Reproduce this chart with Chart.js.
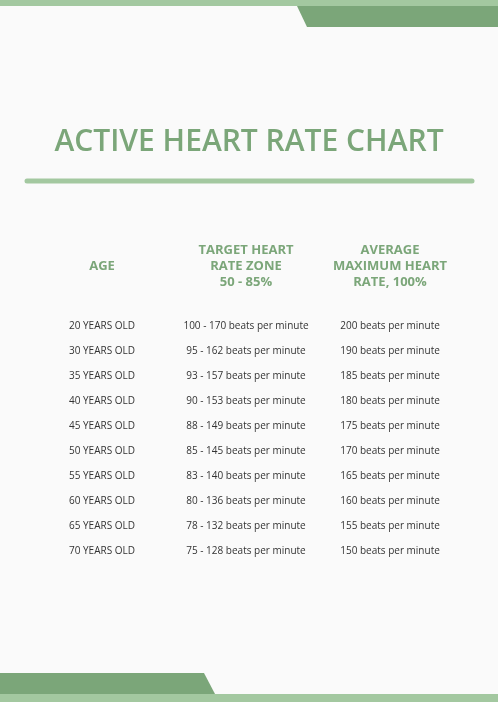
<!DOCTYPE html>
<html><head><meta charset="utf-8">
<script src="https://cdn.jsdelivr.net/npm/chart.js@4"></script>
<style>html,body{margin:0;padding:0;background:#fafafa;}#w{width:498px;height:702px;position:relative;}</style>
</head><body><div id="w"><canvas id="c"></canvas></div>
<script>
const title = "ACTIVE HEART RATE CHART";
const columns = ["AGE", "TARGET", "MAX"];
const headers = [["AGE"], ["TARGET HEART", "RATE ZONE", "50 - 85%"], ["AVERAGE", "MAXIMUM HEART", "RATE, 100%"]];
const ages = ["20 YEARS OLD","30 YEARS OLD","35 YEARS OLD","40 YEARS OLD","45 YEARS OLD","50 YEARS OLD","55 YEARS OLD","60 YEARS OLD","65 YEARS OLD","70 YEARS OLD"];
const targetLow = [100,95,93,90,88,85,83,80,78,75];
const targetHigh = [170,162,157,153,149,145,140,136,132,128];
const maxRate = [200,190,185,180,175,170,165,160,155,150];

const cellText = (col, i) => col === 0 ? ages[i]
  : col === 1 ? targetLow[i] + " - " + targetHigh[i] + " beats per minute"
  : maxRate[i] + " beats per minute";

const pts = [];
ages.forEach((a, i) => columns.forEach((c, j) => pts.push({x: c, y: a, col: j, row: i})));

const LIGHT = "#a3c8a0", DARK = "#7ba679";
const deco = {
  id: "deco",
  beforeDraw(ch) {
    const g = ch.ctx;
    g.save();
    g.fillStyle = "#fafafa"; g.fillRect(0, 0, 498, 702);
    g.fillStyle = LIGHT; g.fillRect(0, 0, 498, 6);
    g.fillStyle = DARK;
    g.beginPath(); g.moveTo(297, 6); g.lineTo(498, 6); g.lineTo(498, 27); g.lineTo(307, 27); g.closePath(); g.fill();
    g.beginPath(); g.moveTo(0, 673); g.lineTo(204, 673); g.lineTo(215, 694); g.lineTo(0, 694); g.closePath(); g.fill();
    g.fillStyle = LIGHT; g.fillRect(0, 694, 498, 8);
    g.fillStyle = DARK; g.font = "600 30px 'Open Sans'"; g.textAlign = "center"; g.textBaseline = "middle";
    g.fillText(title, 249, 142);
    g.strokeStyle = LIGHT; g.lineWidth = 5; g.lineCap = "round";
    g.beginPath(); g.moveTo(27, 181); g.lineTo(472, 181); g.stroke();
    const xs = ch.scales.x;
    g.font = "bold 13px 'Open Sans'";
    headers.forEach((h, j) => {
      const x = xs.getPixelForValue(j);
      const y0 = h.length === 1 ? 266 : 250;
      h.forEach((line, k) => g.fillText(line, x, y0 + 16 * k));
    });
    g.restore();
  },
  afterDatasetsDraw(ch) {
    const g = ch.ctx; g.save();
    g.fillStyle = "#333"; g.font = "10px 'Open Sans'"; g.textAlign = "center"; g.textBaseline = "middle";
    ch.getDatasetMeta(0).data.forEach((el, k) => {
      const p = pts[k];
      g.fillText(cellText(p.col, p.row), el.x, el.y);
    });
    g.restore();
  }
};

new Chart(document.getElementById("c"), {
  type: "scatter",
  data: { datasets: [{ data: pts, pointRadius: 0, pointHoverRadius: 0 }] },
  options: {
    responsive: true, maintainAspectRatio: false, animation: false,
    layout: { padding: { left: 30, right: 36, top: 313.5, bottom: 138.5 } },
    plugins: { legend: { display: false }, tooltip: { enabled: false } },
    scales: {
      x: { type: "category", labels: columns, offset: true, display: false },
      y: { type: "category", labels: ages, offset: true, display: false }
    }
  },
  plugins: [deco]
});
</script></body></html>
